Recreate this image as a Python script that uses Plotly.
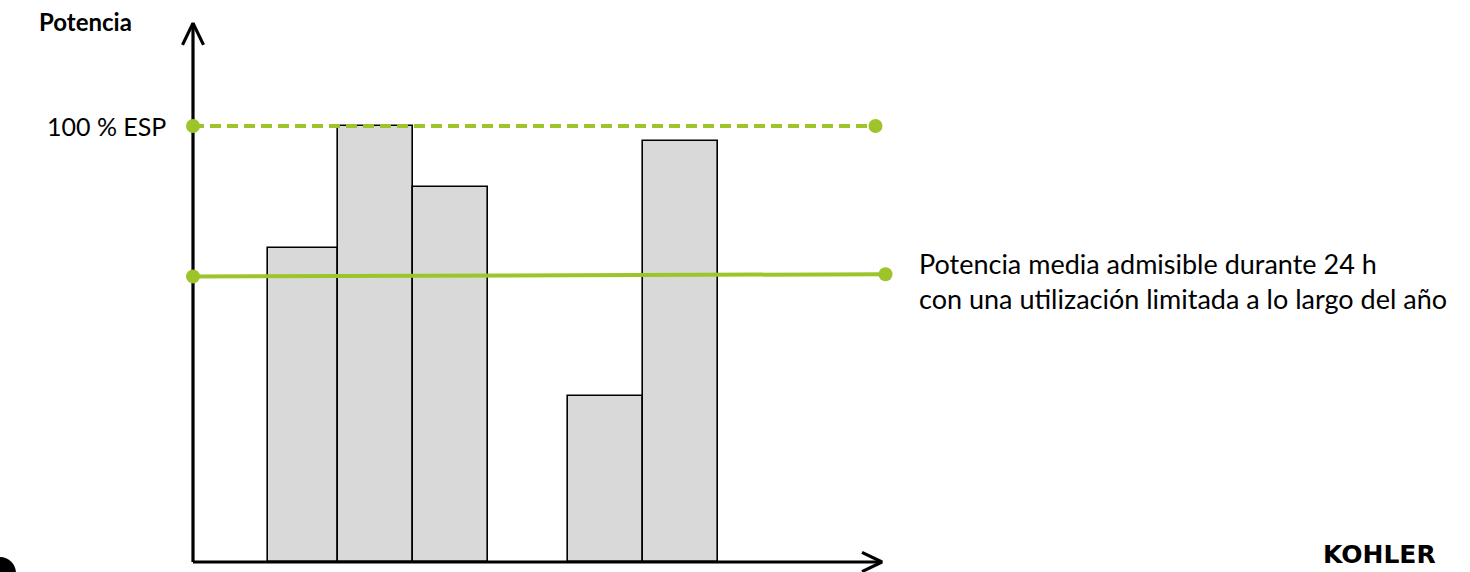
import plotly.graph_objects as go

# Load profile: each block spans [start, end] hours at a load given in % of ESP
bar_start = [3.0, 5.8, 8.8, 15.0, 18.0]
bar_end = [5.8, 8.8, 11.8, 18.0, 21.0]
bar_load = [72, 100, 86, 38, 96.5]

# Reference levels (% of ESP)
esp_level = [100, 100]
esp_x = [0, 27.3]
mean_level = [65.5, 66.0]
mean_x = [0, 27.7]

# Axis extents
x_axis_end = 27.56
y_axis_end = 123.6

GREEN = "#9dc42b"
FONT = "Lato, 'Open Sans', sans-serif"

bar_centers = [(s + e) / 2 for s, e in zip(bar_start, bar_end)]
bar_widths = [e - s for s, e in zip(bar_start, bar_end)]

fig = go.Figure()

fig.add_trace(go.Bar(
    x=bar_centers, y=bar_load, width=bar_widths, base=0,
    marker=dict(color="#d9d9d9", line=dict(color="#000000", width=1.6)),
    hoverinfo="skip",
))

# Axes with open arrow heads
fig.add_trace(go.Scatter(
    x=[0, x_axis_end, None, x_axis_end - 0.8, x_axis_end, x_axis_end - 0.8],
    y=[0, 0, None, 2.2, 0, -2.2],
    mode="lines", line=dict(color="#000000", width=3.2), hoverinfo="skip",
))
fig.add_trace(go.Scatter(
    x=[0, 0, None, -0.42, 0, 0.42],
    y=[0, y_axis_end, None, y_axis_end - 5.0, y_axis_end, y_axis_end - 5.0],
    mode="lines", line=dict(color="#000000", width=3.2), hoverinfo="skip",
))

# ESP level (dashed) and admissible mean power (solid)
fig.add_trace(go.Scatter(
    x=esp_x, y=esp_level, mode="lines+markers",
    line=dict(color=GREEN, width=4, dash="11px,6px"),
    marker=dict(color=GREEN, size=14), hoverinfo="skip",
))
fig.add_trace(go.Scatter(
    x=mean_x, y=mean_level, mode="lines+markers",
    line=dict(color=GREEN, width=4),
    marker=dict(color=GREEN, size=14), hoverinfo="skip",
))

annotations = [
    dict(x=-6.24, y=123.9, xref="x", yref="y", text="<b>Potencia</b>",
         xanchor="left", yanchor="middle", showarrow=False,
         font=dict(size=24, color="#000000", family=FONT)),
    dict(x=-1.0, y=100, xref="x", yref="y", text="100 % ESP",
         xanchor="right", yanchor="middle", showarrow=False,
         font=dict(size=25, color="#000000", family=FONT)),
    dict(x=28.96, y=64.4, xref="x", yref="y",
         text="Potencia media admisible durante 24 h<br>con una utilización limitada a lo largo del año",
         xanchor="left", yanchor="middle", align="left", showarrow=False,
         font=dict(size=27, color="#000000", family=FONT)),
    dict(x=1379, y=571, xref="paper", yref="paper", text="<b>KOHLER</b>",
         xanchor="center", yanchor="bottom", showarrow=False,
         font=dict(size=25, color="#000000", family="DejaVu Sans")),
]

# logo position is given in pixels; convert to paper fractions
for a in annotations:
    if a["xref"] == "paper":
        a["x"] = a["x"] / 1470
        a["y"] = 1 - a["y"] / 572

# edge of the page badge in the lower-left corner
shapes = [
    dict(type="circle", xref="paper", yref="paper",
         x0=-16 / 1470, x1=16 / 1470, y0=1 - 590 / 572, y1=1 - 557 / 572,
         fillcolor="#000000", line=dict(width=0), layer="above"),
]

fig.update_layout(
    width=1470, height=572,
    margin=dict(l=0, r=0, t=0, b=0),
    paper_bgcolor="#ffffff", plot_bgcolor="#ffffff",
    showlegend=False,
    xaxis=dict(range=[-7.72, 51.08], visible=False, fixedrange=True),
    yaxis=dict(range=[-2.294, 128.9], visible=False, fixedrange=True),
    annotations=annotations,
    shapes=shapes,
    bargap=0,
)

fig.write_html("out.html", config={"displayModeBar": False})
